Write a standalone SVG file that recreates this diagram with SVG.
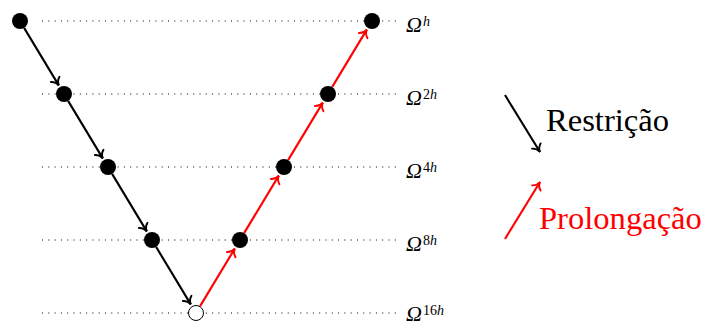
<svg xmlns="http://www.w3.org/2000/svg" width="706" height="324" viewBox="0 0 706 324">
<style>
.lvl{stroke:#000;stroke-width:1;stroke-dasharray:1 5.3;fill:none}
.node{fill:#000}
.open{fill:#fff;stroke:#000;stroke-width:1}
.ar{stroke:#000;stroke-width:2.1;fill:none;marker-end:url(#tipK)}
.ar.red{stroke:#f00;marker-end:url(#tipR)}
.om{font-family:'Liberation Serif',serif;font-style:italic;font-size:22px;fill:#000}
.sup{font-size:14px}
.up{font-style:normal}
.leg{font-family:'Liberation Serif',serif;font-size:32.6px}
</style>
<defs>
<marker id="tipK" viewBox="-9 -7 11 14" markerWidth="11" markerHeight="14" refX="0" refY="0" markerUnits="userSpaceOnUse" orient="auto" overflow="visible">
<path d="M-7,-5 C-5.4,-2 -2.5,-0.4 0,0 C-2.5,0.4 -5.4,2 -7,5" fill="none" stroke="#000" stroke-width="1.9" stroke-linecap="round"/>
</marker>
<marker id="tipR" viewBox="-9 -7 11 14" markerWidth="11" markerHeight="14" refX="0" refY="0" markerUnits="userSpaceOnUse" orient="auto" overflow="visible">
<path d="M-7,-5 C-5.4,-2 -2.5,-0.4 0,0 C-2.5,0.4 -5.4,2 -7,5" fill="none" stroke="#f00" stroke-width="1.9" stroke-linecap="round"/>
</marker>
</defs>
<g id="levels">
<line class="lvl" x1="42" y1="21" x2="396" y2="21"/>
<line class="lvl" x1="42" y1="94" x2="396" y2="94"/>
<line class="lvl" x1="42" y1="167" x2="396" y2="167"/>
<line class="lvl" x1="42" y1="240" x2="396" y2="240"/>
<line class="lvl" x1="42" y1="313" x2="396" y2="313"/>
</g>
<g id="labels">
<text class="om" x="406" y="31.5">Ω<tspan class="sup" dx="1" y="25.5">h</tspan></text>
<text class="om" x="406" y="104.5">Ω<tspan class="sup up" dx="1" y="98.5">2</tspan><tspan class="sup">h</tspan></text>
<text class="om" x="406" y="177.5">Ω<tspan class="sup up" dx="1" y="171.5">4</tspan><tspan class="sup">h</tspan></text>
<text class="om" x="406" y="250.5">Ω<tspan class="sup up" dx="1" y="244.5">8</tspan><tspan class="sup">h</tspan></text>
<text class="om" x="406" y="320.5">Ω<tspan class="sup up" dx="1" y="314.5">16</tspan><tspan class="sup">h</tspan></text>
</g>
<g id="connectors">
<line class="ar" x1="24.1" y1="27.9" x2="58.8" y2="85.4"/>
<line class="ar" x1="68.1" y1="100.9" x2="102.8" y2="158.4"/>
<line class="ar" x1="112.1" y1="173.9" x2="146.8" y2="231.4"/>
<line class="ar" x1="156.1" y1="246.9" x2="190.8" y2="304.4"/>
<line class="ar red" x1="200.1" y1="306.1" x2="234.8" y2="248.6"/>
<line class="ar red" x1="244.1" y1="233.1" x2="278.8" y2="175.6"/>
<line class="ar red" x1="288.1" y1="160.1" x2="322.8" y2="102.6"/>
<line class="ar red" x1="332.1" y1="87.1" x2="366.8" y2="29.6"/>
</g>
<g id="n1"><circle class="node" cx="20" cy="21" r="8"/></g>
<g id="n2"><circle class="node" cx="64" cy="94" r="8"/></g>
<g id="n3"><circle class="node" cx="108" cy="167" r="8"/></g>
<g id="n4"><circle class="node" cx="152" cy="240" r="8"/></g>
<g id="n5"><circle class="open" cx="196" cy="313" r="7.5"/></g>
<g id="n6"><circle class="node" cx="240" cy="240" r="8"/></g>
<g id="n7"><circle class="node" cx="284" cy="167" r="8"/></g>
<g id="n8"><circle class="node" cx="328" cy="94" r="8"/></g>
<g id="n9"><circle class="node" cx="372" cy="21" r="8"/></g>
<g id="legend">
<line class="ar" x1="505" y1="95" x2="540" y2="152"/>
<text class="leg" x="546" y="131" fill="#000">Restrição</text>
<line class="ar red" x1="505" y1="239" x2="540" y2="182"/>
<text class="leg" x="539" y="229" fill="#f00">Prolongação</text>
</g>
</svg>
